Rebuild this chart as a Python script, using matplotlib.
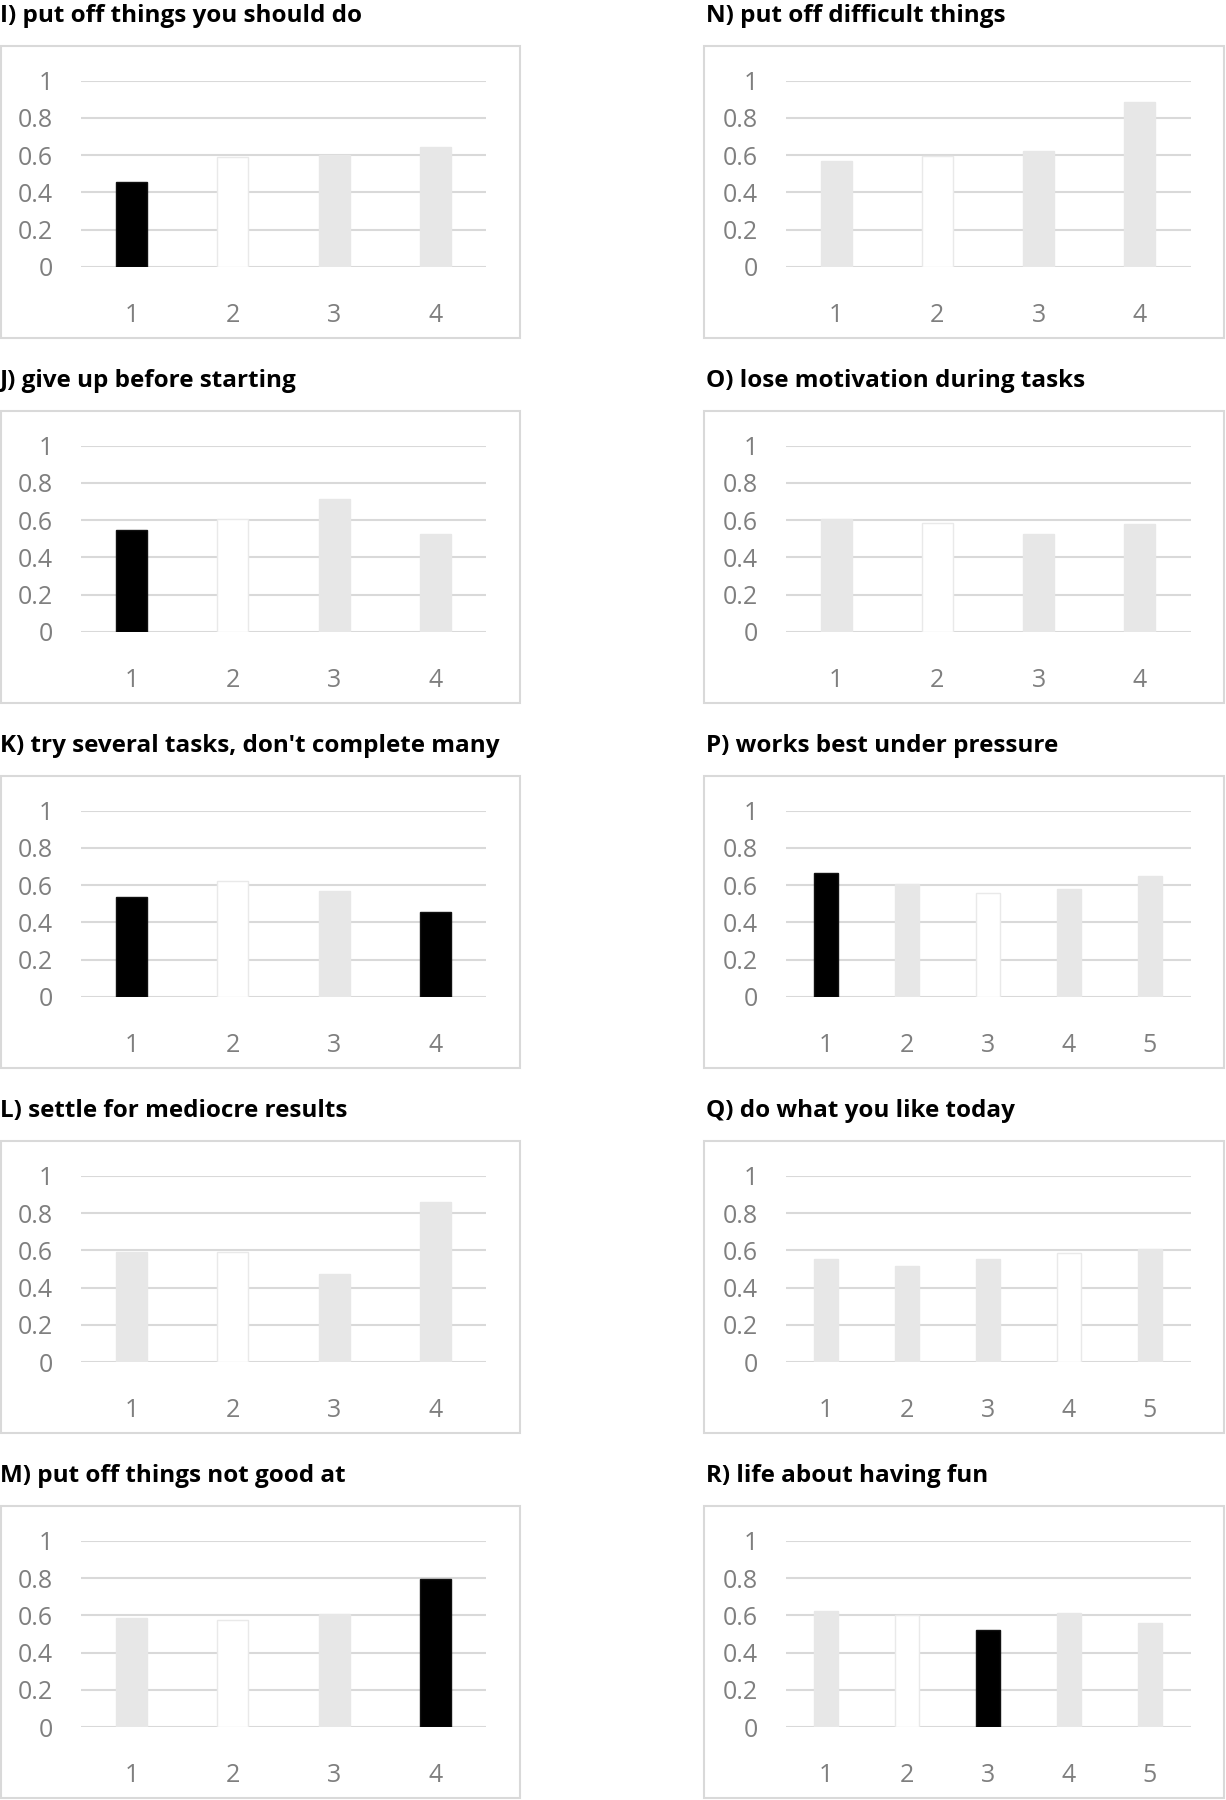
import matplotlib.pyplot as plt
from matplotlib.patches import Rectangle
from matplotlib.transforms import ScaledTranslation

# Panel titles (left column I-M, right column N-R)
titles_left = ["I) put off things you should do",
               "J) give up before starting",
               "K) try several tasks, don't complete many",
               "L) settle for mediocre results",
               "M) put off things not good at"]
titles_right = ["N) put off difficult things",
                "O) lose motivation during tasks",
                "P) works best under pressure",
                "Q) do what you like today",
                "R) life about having fun"]

# Bar heights
vals_I = [0.456, 0.590, 0.600, 0.642]
vals_J = [0.545, 0.607, 0.712, 0.525]
vals_K = [0.536, 0.625, 0.570, 0.457]
vals_L = [0.592, 0.590, 0.472, 0.859]
vals_M = [0.586, 0.573, 0.607, 0.796]
vals_N = [0.568, 0.593, 0.621, 0.884]
vals_O = [0.604, 0.582, 0.527, 0.580]
vals_P = [0.665, 0.606, 0.556, 0.581, 0.651]
vals_Q = [0.555, 0.514, 0.552, 0.588, 0.609]
vals_R = [0.625, 0.604, 0.521, 0.615, 0.559]

# Bar shading: k = black, w = white, g = light grey
shade_I = ["k", "w", "g", "g"]
shade_J = ["k", "w", "g", "g"]
shade_K = ["k", "w", "g", "k"]
shade_L = ["g", "w", "g", "g"]
shade_M = ["g", "w", "g", "k"]
shade_N = ["g", "w", "g", "g"]
shade_O = ["g", "w", "g", "g"]
shade_P = ["k", "g", "w", "g", "g"]
shade_Q = ["g", "g", "g", "w", "g"]
shade_R = ["g", "w", "k", "g", "g"]

y_ticks = [0, 0.2, 0.4, 0.6, 0.8, 1]
y_tick_labels = ["0", "0.2", "0.4", "0.6", "0.8", "1"]

face = {"k": "#000000", "w": "#ffffff", "g": "#e7e7e7"}
edge = {"k": "#111111", "w": "#e9e9e9", "g": "#e7e7e7"}

W, H = 1226, 1800
fig = plt.figure(figsize=(W / 100, H / 100), dpi=100)
fig.patch.set_facecolor("white")
font = "Open Sans"


def frac(x0, y0, x1, y1):
    return [x0 / W, 1 - y1 / H, (x1 - x0) / W, (y1 - y0) / H]


left_panels = [(vals_I, shade_I), (vals_J, shade_J), (vals_K, shade_K),
               (vals_L, shade_L), (vals_M, shade_M)]
right_panels = [(vals_N, shade_N), (vals_O, shade_O), (vals_P, shade_P),
                (vals_Q, shade_Q), (vals_R, shade_R)]

# pixel layout of one row of each column
cols = [
    dict(panels=left_panels, titles=titles_left, box=(1, 520, 46, 338),
         plot=(81, 486, 80.5, 266.8), tx=0),
    dict(panels=right_panels, titles=titles_right, box=(704, 1224, 46, 338),
         plot=(785.5, 1190.5, 80.5, 266.8), tx=706),
]

# y labels sit a little below their gridline, as in Excel
label_shift = ScaledTranslation(0, -4 / 100, fig.dpi_scale_trans)

row_step = 365.1
for col in cols:
    for r, ((vals, shades), title) in enumerate(zip(col["panels"], col["titles"])):
        off = r * row_step
        # outer frame
        bx0, bx1, by0, by1 = col["box"]
        fig.add_artist(Rectangle((bx0 / W, 1 - (by1 + off) / H), (bx1 - bx0) / W,
                                 (by1 - by0) / H, transform=fig.transFigure,
                                 facecolor="white", edgecolor="#d9d9d9",
                                 linewidth=1.5, zorder=0))
        fig.text(col["tx"] / W, 1 - (21.5 + off) / H, title, fontsize=17.5,
                 fontweight="bold", family=font, ha="left", va="baseline")

        px0, px1, py0, py1 = col["plot"]
        ax = fig.add_axes(frac(px0, py0 + off, px1, py1 + off))
        ax.set_facecolor("none")
        n = len(vals)
        x = list(range(1, n + 1))
        width = 0.307 if n == 4 else 0.298
        ax.bar(x, vals, width=width, color=[face[s] for s in shades],
               edgecolor=[edge[s] for s in shades], linewidth=1.0, zorder=3)
        ax.set_xlim(0.5, n + 0.5)
        ax.set_ylim(0, 1)
        ax.set_yticks(y_ticks)
        ax.set_yticklabels(y_tick_labels)
        ax.set_xticks(x)
        ax.set_xticklabels([str(i) for i in x])
        for t in ax.get_xticklabels() + ax.get_yticklabels():
            t.set_family(font)
            t.set_fontsize(18)
            t.set_color("#7f7f7f")
        for t in ax.get_yticklabels():
            t.set_transform(t.get_transform() + label_shift)
        ax.tick_params(axis="both", length=0)
        ax.tick_params(axis="y", pad=20)
        ax.tick_params(axis="x", pad=25.8)
        ax.grid(axis="y", color="#d9d9d9", linewidth=1.5, zorder=0)
        ax.set_axisbelow(True)
        for s in ax.spines.values():
            s.set_visible(False)

fig.savefig("out.png", dpi=100)
